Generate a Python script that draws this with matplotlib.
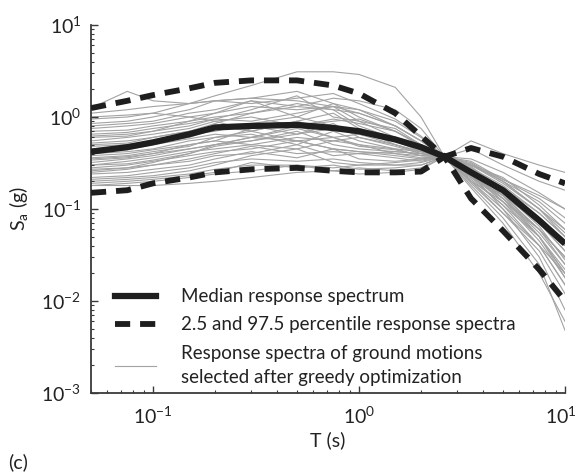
import matplotlib
matplotlib.use("Agg")
import matplotlib.pyplot as plt
from matplotlib.lines import Line2D
import matplotlib.ticker as mticker
import matplotlib.transforms as mtransforms

plt.rcParams['font.family'] = ['Lato', 'DejaVu Sans']
plt.rcParams['mathtext.fontset'] = 'custom'
plt.rcParams['mathtext.rm'] = 'Lato'
plt.rcParams['mathtext.it'] = 'Lato:italic'
plt.rcParams['mathtext.bf'] = 'Lato:bold'

# Periods (s)
periods = [0.05, 0.075, 0.1, 0.15, 0.2, 0.3, 0.5, 0.75, 1.0, 1.5, 2.0, 2.6, 3.5, 5.0, 7.5, 10.0]

median = [0.42, 0.47, 0.53, 0.65, 0.77, 0.80, 0.82, 0.76, 0.70, 0.57, 0.47, 0.37, 0.25, 0.16, 0.075, 0.042]
upper = [1.25, 1.5, 1.73, 2.05, 2.35, 2.5, 2.5, 2.2, 1.8, 1.1, 0.62, 0.37, 0.46, 0.37, 0.24, 0.19]
lower = [0.15, 0.16, 0.19, 0.22, 0.25, 0.27, 0.28, 0.26, 0.25, 0.25, 0.255, 0.37, 0.13, 0.058, 0.022, 0.010]

gm01 = [0.95, 1.0, 1.1, 1.4, 1.7, 2.2, 3.1, 3.1, 2.9, 2.1, 1.0, 0.37, 0.45, 0.30, 0.20, 0.16]
gm02 = [1.25, 1.9, 1.5, 1.4, 1.5, 1.6, 1.5, 1.3, 1.1, 0.8, 0.55, 0.37, 0.28, 0.17, 0.09, 0.05]
gm03 = [1.1, 1.2, 1.3, 1.4, 1.5, 1.6, 1.9, 1.4, 1.2, 0.9, 0.6, 0.37, 0.3, 0.2, 0.1, 0.06]
gm04 = [0.85, 0.9, 1.0, 1.2, 1.5, 1.4, 1.6, 1.8, 1.4, 0.95, 0.62, 0.37, 0.22, 0.14, 0.07, 0.035]
gm05 = [0.75, 0.8, 0.85, 1.0, 1.1, 1.3, 1.2, 1.3, 1.2, 0.8, 0.55, 0.37, 0.35, 0.25, 0.15, 0.10]
gm06 = [0.7, 0.72, 0.8, 0.9, 1.1, 1.5, 1.0, 1.4, 1.0, 0.7, 0.5, 0.37, 0.3, 0.2, 0.12, 0.07]
gm07 = [0.65, 0.68, 0.75, 0.85, 0.95, 1.2, 1.7, 1.0, 0.9, 0.75, 0.5, 0.37, 0.26, 0.17, 0.08, 0.045]
gm08 = [0.6, 0.62, 0.7, 0.8, 0.95, 0.9, 1.1, 1.3, 0.9, 0.6, 0.45, 0.37, 0.25, 0.13, 0.06, 0.03]
gm09 = [0.55, 0.6, 0.65, 0.75, 0.9, 1.0, 0.8, 0.95, 0.85, 0.7, 0.48, 0.37, 0.3, 0.22, 0.11, 0.06]
gm10 = [0.5, 0.52, 0.6, 0.7, 0.8, 0.7, 0.9, 0.7, 0.75, 0.6, 0.45, 0.37, 0.24, 0.15, 0.07, 0.04]
gm11 = [0.48, 0.5, 0.55, 0.65, 0.7, 0.85, 1.0, 0.8, 0.7, 0.55, 0.42, 0.37, 0.2, 0.12, 0.06, 0.025]
gm12 = [0.45, 0.48, 0.52, 0.6, 0.75, 0.8, 0.65, 0.85, 0.6, 0.5, 0.4, 0.37, 0.28, 0.18, 0.09, 0.05]
gm13 = [0.42, 0.44, 0.5, 0.58, 0.65, 0.6, 0.75, 0.6, 0.65, 0.55, 0.44, 0.37, 0.22, 0.13, 0.05, 0.02]
gm14 = [0.4, 0.42, 0.45, 0.55, 0.6, 0.7, 0.9, 1.1, 0.75, 0.5, 0.42, 0.37, 0.25, 0.16, 0.08, 0.045]
gm15 = [0.38, 0.4, 0.44, 0.5, 0.55, 0.5, 0.6, 0.55, 0.6, 0.48, 0.4, 0.37, 0.3, 0.19, 0.1, 0.055]
gm16 = [0.36, 0.38, 0.42, 0.48, 0.6, 0.65, 0.5, 0.7, 0.55, 0.45, 0.42, 0.37, 0.21, 0.11, 0.05, 0.022]
gm17 = [0.34, 0.36, 0.4, 0.5, 0.55, 0.75, 0.8, 0.6, 0.5, 0.45, 0.38, 0.37, 0.27, 0.17, 0.07, 0.035]
gm18 = [0.32, 0.35, 0.38, 0.45, 0.5, 0.55, 0.7, 0.5, 0.45, 0.42, 0.4, 0.37, 0.23, 0.14, 0.06, 0.03]
gm19 = [0.3, 0.33, 0.36, 0.42, 0.45, 0.5, 0.45, 0.55, 0.5, 0.4, 0.36, 0.37, 0.26, 0.15, 0.065, 0.028]
gm20 = [0.3, 0.31, 0.34, 0.4, 0.5, 0.6, 0.55, 0.45, 0.42, 0.38, 0.35, 0.37, 0.2, 0.1, 0.04, 0.015]
gm21 = [0.28, 0.3, 0.33, 0.38, 0.42, 0.45, 0.55, 0.6, 0.48, 0.44, 0.38, 0.37, 0.32, 0.2, 0.1, 0.05]
gm22 = [0.27, 0.28, 0.3, 0.35, 0.4, 0.48, 0.4, 0.42, 0.4, 0.36, 0.33, 0.37, 0.24, 0.13, 0.055, 0.025]
gm23 = [0.25, 0.27, 0.3, 0.33, 0.38, 0.4, 0.5, 0.38, 0.4, 0.42, 0.4, 0.37, 0.18, 0.08, 0.025, 0.0048]
gm24 = [0.24, 0.25, 0.27, 0.3, 0.35, 0.42, 0.36, 0.45, 0.35, 0.33, 0.35, 0.37, 0.29, 0.16, 0.075, 0.04]
gm25 = [0.22, 0.23, 0.25, 0.28, 0.32, 0.35, 0.33, 0.35, 0.32, 0.3, 0.32, 0.37, 0.25, 0.12, 0.045, 0.018]
gm26 = [0.21, 0.22, 0.23, 0.26, 0.3, 0.38, 0.45, 0.32, 0.3, 0.32, 0.34, 0.37, 0.19, 0.09, 0.035, 0.012]
gm27 = [0.2, 0.21, 0.22, 0.24, 0.27, 0.3, 0.3, 0.28, 0.3, 0.3, 0.3, 0.37, 0.33, 0.21, 0.13, 0.08]
gm28 = [0.19, 0.2, 0.21, 0.23, 0.25, 0.32, 0.28, 0.3, 0.27, 0.28, 0.3, 0.37, 0.22, 0.11, 0.04, 0.02]
gm29 = [0.18, 0.19, 0.2, 0.22, 0.24, 0.26, 0.3, 0.26, 0.28, 0.26, 0.28, 0.37, 0.27, 0.14, 0.06, 0.03]
gm30 = [0.18, 0.18, 0.18, 0.19, 0.2, 0.22, 0.25, 0.26, 0.24, 0.25, 0.27, 0.37, 0.24, 0.1, 0.03, 0.008]
gm31 = [1.0, 1.05, 1.1, 1.0, 0.9, 0.7, 0.55, 0.45, 0.42, 0.4, 0.38, 0.37, 0.2, 0.09, 0.04, 0.015]
gm32 = [0.8, 0.85, 0.9, 1.1, 1.2, 1.5, 1.3, 1.6, 1.5, 1.2, 0.75, 0.37, 0.55, 0.4, 0.3, 0.25]
gm33 = [0.62, 0.65, 0.7, 0.9, 1.0, 1.1, 1.3, 1.2, 1.1, 0.8, 0.55, 0.37, 0.23, 0.12, 0.05, 0.02]
gm34 = [0.35, 0.37, 0.4, 0.45, 0.5, 0.6, 0.8, 0.9, 0.95, 0.7, 0.5, 0.37, 0.31, 0.21, 0.14, 0.1]
gm35 = [0.52, 0.55, 0.6, 0.7, 0.85, 1.1, 1.4, 1.2, 0.8, 0.58, 0.43, 0.37, 0.26, 0.14, 0.05, 0.018]
gm36 = [0.26, 0.28, 0.32, 0.4, 0.48, 0.55, 0.65, 0.75, 0.65, 0.5, 0.42, 0.37, 0.17, 0.07, 0.02, 0.006]

ground_motions = [gm01, gm02, gm03, gm04, gm05, gm06, gm07, gm08, gm09, gm10, gm11, gm12,
                  gm13, gm14, gm15, gm16, gm17, gm18, gm19, gm20, gm21, gm22, gm23, gm24,
                  gm25, gm26, gm27, gm28, gm29, gm30, gm31, gm32, gm33, gm34, gm35, gm36]

legend_labels = ["Median response spectrum",
                 "2.5 and 97.5 percentile response spectra",
                 "Response spectra of ground motions\nselected after greedy optimization"]

W, H = 579, 473
fig = plt.figure(figsize=(W / 100, H / 100), dpi=100)
ax = fig.add_axes([91 / W, (H - 393) / H, (565 - 91) / W, (393 - 25) / H])

gray = '#a3a3a3'
black = '#1e1e1e'
for gm in ground_motions:
    ax.plot(periods, gm, color=gray, lw=0.8, zorder=1)

ax.plot(periods, median, color=black, lw=4.5, solid_capstyle='butt', zorder=3)
ax.plot(periods, upper, color=black, lw=4.2, dashes=(2.6, 1.7), zorder=3)
ax.plot(periods, lower, color=black, lw=4.2, dashes=(2.6, 1.7), zorder=3)

ax.set_xscale('log')
ax.set_yscale('log')
ax.set_xlim(0.05, 10)
ax.set_ylim(1e-3, 10)

for s in ['top', 'right']:
    ax.spines[s].set_visible(False)
for s in ['left', 'bottom']:
    ax.spines[s].set_color('#3a3a3a')
    ax.spines[s].set_linewidth(1.3)

ax.xaxis.set_major_locator(mticker.LogLocator(base=10, numticks=10))
ax.yaxis.set_major_locator(mticker.LogLocator(base=10, numticks=10))
ax.xaxis.set_minor_locator(mticker.LogLocator(base=10, subs=range(2, 10), numticks=20))
ax.yaxis.set_minor_locator(mticker.LogLocator(base=10, subs=range(2, 10), numticks=20))
ax.tick_params(which='major', direction='in', length=5, width=1.0, color='#3a3a3a',
               labelsize=14, labelcolor='#222222')
ax.tick_params(axis='x', which='major', pad=9)
ax.tick_params(axis='y', which='major', pad=7)
ax.tick_params(which='minor', direction='in', length=2.5, width=0.8, color='#3a3a3a')
ax.tick_params(axis='x', which='both', top=False)
ax.tick_params(axis='y', which='both', right=False)

ax.set_xlabel('T (s)', fontsize=14, color='#222222', labelpad=3)
ax.set_ylabel(r'S$_{\mathregular{a}}$ (g)', fontsize=14, color='#222222', labelpad=8)

handles = [Line2D([], [], color=black, lw=4.5),
           Line2D([], [], color=black, lw=4.2, dashes=(2.6, 1.7)),
           Line2D([], [], color=gray, lw=0.8)]
leg = ax.legend(handles, legend_labels, loc='lower left', bbox_to_anchor=(0.015, -0.028),
                frameon=False, fontsize=13.5, handlelength=2.2, handletextpad=1.3,
                labelspacing=0.6)
for t in leg.get_texts():
    t.set_color('#222222')
    t.set_linespacing(1.55)

fig.text(8 / W, 1 - 462 / H, '(c)', fontsize=14, color='#222222', va='center', ha='left')

# nudge the rightmost x tick label slightly left so it stays inside the figure
fig.canvas.draw()
xlabels = ax.get_xticklabels()
for lbl in xlabels:
    if lbl.get_text() and abs(lbl.get_position()[0] - 10) < 1e-6:
        lbl.set_transform(lbl.get_transform() + mtransforms.ScaledTranslation(-4 / 100, 0, fig.dpi_scale_trans))

fig.savefig('out.png', dpi=100)
